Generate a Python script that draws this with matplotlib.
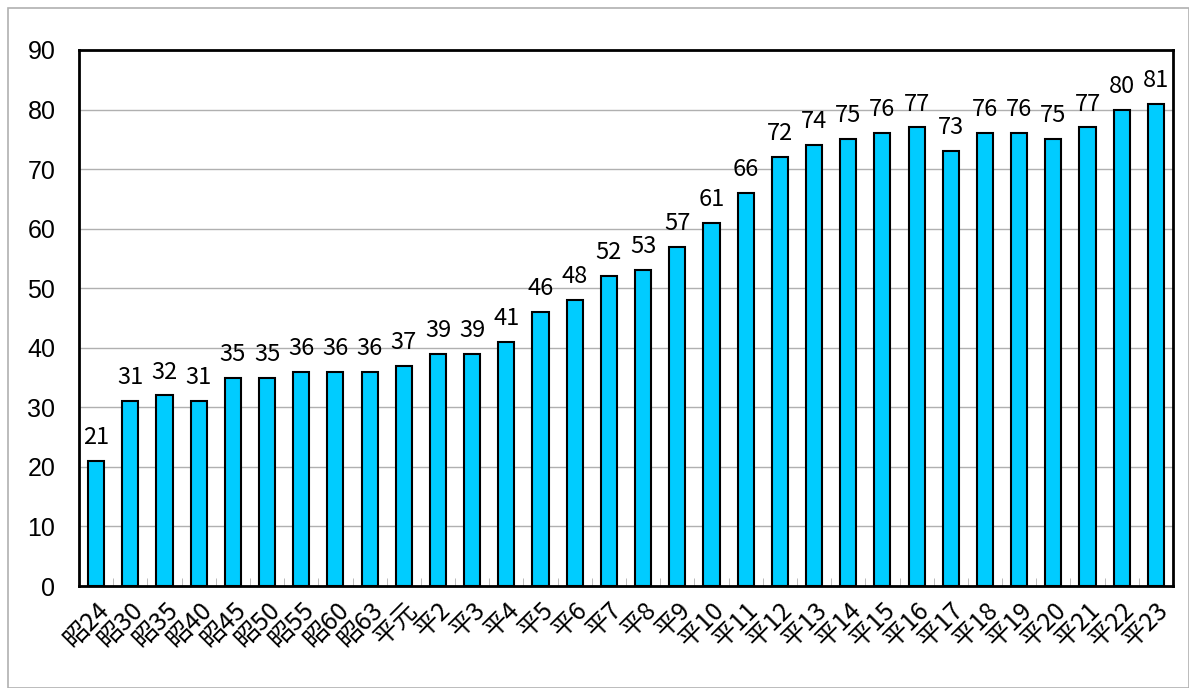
import numpy as np
from matplotlib import pyplot as plt
from matplotlib import patches as patches

# Categories (era years) and values
years = ['昭24', '昭30', '昭35', '昭40', '昭45', '昭50', '昭55', '昭60', '昭63', '平元',
         '平2', '平3', '平4', '平5', '平6', '平7', '平8', '平9', '平10', '平11',
         '平12', '平13', '平14', '平15', '平16', '平17', '平18', '平19', '平20', '平21',
         '平22', '平23']
values = [21, 31, 32, 31, 35, 35, 36, 36, 36, 37,
          39, 39, 41, 46, 48, 52, 53, 57, 61, 66,
          72, 74, 75, 76, 77, 73, 76, 76, 75, 77,
          80, 81]
yticks = [0, 10, 20, 30, 40, 50, 60, 70, 80, 90]

jp = ['Noto Sans CJK JP', 'DejaVu Sans']

fig = plt.figure(figsize=(11.89, 6.88), dpi=100)
# grey outer frame
fig.patches.append(patches.Rectangle((8/1189, 0), 1 - 8/1189, 1 - 8/688, transform=fig.transFigure,
                                     fill=False, edgecolor='#b0b0b0', linewidth=1.2))

ax = fig.add_axes([79/1189, 1 - 586/688, (1173 - 79)/1189, (586 - 50)/688])
x = np.arange(len(years))
ax.bar(x, values, width=0.47, color='#00CCFF', edgecolor='black', linewidth=1.5, zorder=3)

for xi, v in zip(x, values):
    ax.text(xi, v + 2.0, str(v), ha='center', va='bottom', fontsize=17, family=jp)

ax.set_xlim(-0.5, len(years) - 0.5)
ax.set_ylim(0, 90)
ax.set_yticks(yticks)
ax.set_yticklabels([str(t) for t in yticks], fontsize=18, family='Liberation Sans')
ax.yaxis.grid(True, color='#b0b0b0', linewidth=1)
ax.tick_params(axis='y', length=0, pad=17)

ax.set_xticks(x)
ax.set_xticklabels(years, rotation=45, ha='right', rotation_mode='anchor', fontsize=18, family=jp)
ax.tick_params(axis='x', length=0, pad=8)
ax.set_xticks(np.arange(-0.5, len(years)), minor=True)
ax.tick_params(axis='x', which='minor', direction='in', length=6, color='#b0b0b0')

for s in ax.spines.values():
    s.set_linewidth(2)
    s.set_color('black')

fig.savefig('out.png', dpi=100)
